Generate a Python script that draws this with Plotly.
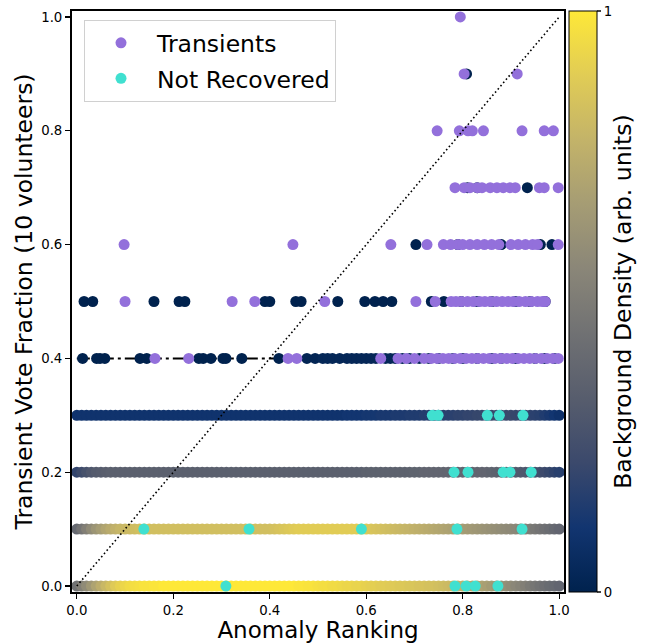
import plotly.graph_objects as go

# ---------------- data ----------------
# Background bands (continuous rows of background objects), x sampled along the row
BAND_X = [
    0.00, 0.01, 0.02, 0.03, 0.04, 0.05, 0.06, 0.07, 0.08, 0.09,
    0.10, 0.11, 0.12, 0.13, 0.14, 0.15, 0.16, 0.17, 0.18, 0.19,
    0.20, 0.21, 0.22, 0.23, 0.24, 0.25, 0.26, 0.27, 0.28, 0.29,
    0.30, 0.31, 0.32, 0.33, 0.34, 0.35, 0.36, 0.37, 0.38, 0.39,
    0.40, 0.41, 0.42, 0.43, 0.44, 0.45, 0.46, 0.47, 0.48, 0.49,
    0.50, 0.51, 0.52, 0.53, 0.54, 0.55, 0.56, 0.57, 0.58, 0.59,
    0.60, 0.61, 0.62, 0.63, 0.64, 0.65, 0.66, 0.67, 0.68, 0.69,
    0.70, 0.71, 0.72, 0.73, 0.74, 0.75, 0.76, 0.77, 0.78, 0.79,
    0.80, 0.81, 0.82, 0.83, 0.84, 0.85, 0.86, 0.87, 0.88, 0.89,
    0.90, 0.91, 0.92, 0.93, 0.94, 0.95, 0.96, 0.97, 0.98, 0.99,
    1.00,
]
BAND_VOTES = [0.0, 0.1, 0.2, 0.3]
DENSITY_V00 = [
    0.45, 0.52, 0.58, 0.64, 0.70, 0.75, 0.80, 0.84, 0.88, 0.91,
    0.93, 0.95, 0.96, 0.97, 0.98, 0.98, 0.99, 0.99, 1.00, 1.00,
    1.00, 1.00, 1.00, 1.00, 1.00, 1.00, 1.00, 1.00, 1.00, 1.00,
    1.00, 1.00, 1.00, 1.00, 1.00, 1.00, 1.00, 1.00, 1.00, 1.00,
    1.00, 1.00, 1.00, 1.00, 1.00, 1.00, 0.99, 0.99, 0.98, 0.98,
    0.97, 0.96, 0.96, 0.95, 0.95, 0.94, 0.93, 0.93, 0.92, 0.92,
    0.91, 0.90, 0.90, 0.89, 0.89, 0.88, 0.88, 0.87, 0.87, 0.86,
    0.86, 0.85, 0.85, 0.84, 0.84, 0.83, 0.82, 0.81, 0.80, 0.78,
    0.77, 0.75, 0.73, 0.72, 0.70, 0.68, 0.66, 0.64, 0.62, 0.60,
    0.58, 0.56, 0.54, 0.52, 0.49, 0.47, 0.45, 0.43, 0.41, 0.40,
    0.38,
]
DENSITY_V01 = [
    0.40, 0.46, 0.52, 0.58, 0.63, 0.67, 0.71, 0.74, 0.77, 0.79,
    0.80, 0.81, 0.82, 0.83, 0.83, 0.83, 0.83, 0.83, 0.83, 0.83,
    0.83, 0.83, 0.83, 0.83, 0.83, 0.83, 0.83, 0.83, 0.83, 0.83,
    0.83, 0.83, 0.83, 0.83, 0.83, 0.83, 0.83, 0.83, 0.83, 0.83,
    0.83, 0.84, 0.85, 0.86, 0.87, 0.88, 0.89, 0.89, 0.89, 0.89,
    0.89, 0.89, 0.89, 0.89, 0.89, 0.89, 0.89, 0.89, 0.89, 0.88,
    0.87, 0.86, 0.85, 0.84, 0.83, 0.82, 0.81, 0.80, 0.79, 0.78,
    0.77, 0.76, 0.75, 0.74, 0.73, 0.72, 0.71, 0.70, 0.69, 0.68,
    0.67, 0.66, 0.65, 0.64, 0.63, 0.62, 0.61, 0.60, 0.59, 0.58,
    0.57, 0.56, 0.54, 0.52, 0.50, 0.48, 0.46, 0.44, 0.42, 0.40,
    0.38,
]
DENSITY_V02 = [
    0.20, 0.24, 0.27, 0.30, 0.32, 0.33, 0.34, 0.35, 0.35, 0.35,
    0.35, 0.35, 0.35, 0.35, 0.35, 0.35, 0.35, 0.35, 0.35, 0.35,
    0.35, 0.35, 0.35, 0.35, 0.35, 0.35, 0.35, 0.35, 0.35, 0.35,
    0.35, 0.35, 0.35, 0.35, 0.35, 0.35, 0.35, 0.35, 0.35, 0.35,
    0.35, 0.35, 0.35, 0.35, 0.35, 0.35, 0.35, 0.35, 0.35, 0.35,
    0.35, 0.35, 0.35, 0.35, 0.35, 0.35, 0.35, 0.35, 0.35, 0.35,
    0.36, 0.36, 0.36, 0.36, 0.36, 0.36, 0.36, 0.36, 0.36, 0.36,
    0.37, 0.37, 0.38, 0.38, 0.38, 0.38, 0.38, 0.38, 0.38, 0.38,
    0.38, 0.38, 0.38, 0.38, 0.38, 0.38, 0.37, 0.36, 0.35, 0.34,
    0.33, 0.32, 0.31, 0.30, 0.29, 0.27, 0.25, 0.23, 0.21, 0.19,
    0.17,
]
DENSITY_V03 = [
    0.10, 0.10, 0.10, 0.10, 0.10, 0.10, 0.10, 0.10, 0.10, 0.10,
    0.10, 0.10, 0.10, 0.10, 0.10, 0.10, 0.10, 0.10, 0.10, 0.10,
    0.10, 0.10, 0.10, 0.10, 0.10, 0.10, 0.10, 0.10, 0.10, 0.10,
    0.10, 0.10, 0.10, 0.10, 0.10, 0.10, 0.10, 0.10, 0.10, 0.10,
    0.10, 0.10, 0.10, 0.10, 0.10, 0.10, 0.10, 0.10, 0.10, 0.10,
    0.10, 0.10, 0.10, 0.10, 0.10, 0.10, 0.11, 0.11, 0.11, 0.11,
    0.12, 0.12, 0.12, 0.13, 0.13, 0.13, 0.14, 0.14, 0.14, 0.15,
    0.15, 0.15, 0.16, 0.16, 0.16, 0.17, 0.17, 0.18, 0.18, 0.19,
    0.19, 0.20, 0.20, 0.21, 0.21, 0.22, 0.22, 0.22, 0.22, 0.22,
    0.22, 0.21, 0.21, 0.20, 0.19, 0.18, 0.17, 0.15, 0.13, 0.11,
    0.09,
]
BAND_DENSITIES = [DENSITY_V00, DENSITY_V01, DENSITY_V02, DENSITY_V03]

# Sparse background objects (low density) on higher vote rows
BG_X_V04 = [0.012, 0.041, 0.048, 0.058, 0.131, 0.145, 0.253, 0.262, 0.278, 0.303,
            0.309, 0.342, 0.419, 0.477, 0.494, 0.510, 0.520, 0.530, 0.545, 0.560,
            0.570, 0.580, 0.590, 0.600, 0.610, 0.620, 0.640, 0.650, 0.660, 0.675,
            0.690, 0.710, 0.730, 0.750, 0.780, 0.800, 0.830, 0.860, 0.880, 0.910,
            0.950, 0.970, 0.990]
BG_D_V04 = [0.00, 0.00, 0.00, 0.00, 0.00, 0.00, 0.00, 0.00, 0.00, 0.00,
            0.00, 0.00, 0.00, 0.02, 0.02, 0.03, 0.03, 0.03, 0.03, 0.03,
            0.03, 0.03, 0.03, 0.03, 0.03, 0.03, 0.03, 0.03, 0.03, 0.03,
            0.03, 0.03, 0.03, 0.03, 0.03, 0.03, 0.03, 0.03, 0.03, 0.03,
            0.03, 0.03, 0.03]
BG_X_V05 = [0.015, 0.033, 0.160, 0.212, 0.224, 0.390, 0.400, 0.454, 0.465, 0.541,
            0.597, 0.618, 0.635, 0.653, 0.735, 0.761, 0.797, 0.830, 0.860, 0.909,
            0.940, 0.971]
BG_X_V06 = [0.703, 0.790, 0.880, 0.961, 0.985]
BG_X_V07 = [0.810, 0.830, 0.934]
BG_X_V09 = [0.808]

# Transients
TR_X_V04 = [0.162, 0.232, 0.438, 0.456, 0.630, 0.666, 0.683, 0.700, 0.720, 0.735,
            0.747, 0.759, 0.771, 0.783, 0.795, 0.807, 0.819, 0.831, 0.843, 0.855,
            0.867, 0.879, 0.891, 0.903, 0.915, 0.927, 0.939, 0.951, 0.963, 0.975,
            0.987, 0.998]
TR_X_V05 = [0.100, 0.322, 0.369, 0.514, 0.703, 0.743, 0.776, 0.786, 0.797, 0.810,
            0.822, 0.835, 0.846, 0.858, 0.870, 0.882, 0.894, 0.905, 0.917, 0.930,
            0.942, 0.955, 0.965, 0.971]
TR_X_V06 = [0.098, 0.448, 0.651, 0.726, 0.760, 0.775, 0.790, 0.800, 0.815, 0.830,
            0.845, 0.860, 0.875, 0.900, 0.915, 0.930, 0.945, 0.955, 0.998]
TR_X_V07 = [0.784, 0.803, 0.815, 0.830, 0.840, 0.857, 0.871, 0.884, 0.898, 0.909,
            0.959, 0.969, 0.998]
TR_X_V08 = [0.747, 0.793, 0.811, 0.820, 0.843, 0.923, 0.969, 0.988]
TR_X_V09 = [0.803, 0.913]
TR_X_V10 = [0.795]

# Not recovered
NR_X_V00 = [0.309, 0.784, 0.807, 0.826, 0.873]
NR_X_V01 = [0.139, 0.357, 0.590, 0.788, 0.923]
NR_X_V02 = [0.782, 0.811, 0.884, 0.898, 0.942]
NR_X_V03 = [0.737, 0.749, 0.851, 0.876, 0.925]

X_TICKS = [0.0, 0.2, 0.4, 0.6, 0.8, 1.0]
Y_TICKS = [0.0, 0.2, 0.4, 0.6, 0.8, 1.0]
CB_TICKS = [0, 1]
CB_TICKTEXT = ["0", "1"]

# ---------------- figure ----------------
FONT = "DejaVu Sans"
PURPLE = "#9370DB"
TURQ = "#40E0D0"
MS = 11
TITLE_SIZE = 23.5
XTITLE_SIZE = 23
TICK_SIZE = 13.3

fig = go.Figure()

# dash-dot reference line at vote fraction 0.4
fig.add_trace(go.Scatter(x=[0.0, 1.0], y=[0.4, 0.4], mode="lines",
                         line=dict(color="black", width=2, dash="13px,4px,3px,4px"),
                         showlegend=False, hoverinfo="skip"))

for vote, dens in zip(BAND_VOTES, BAND_DENSITIES):
    fig.add_trace(go.Scatter(x=BAND_X, y=[vote] * len(BAND_X), mode="markers",
                             marker=dict(size=MS, color=dens, coloraxis="coloraxis"),
                             showlegend=False))

sparse = [(BG_X_V04, 0.4, BG_D_V04), (BG_X_V05, 0.5, None), (BG_X_V06, 0.6, None),
          (BG_X_V07, 0.7, None), (BG_X_V09, 0.9, None)]
for xs, vote, dens in sparse:
    col = dens if dens is not None else [0.0] * len(xs)
    fig.add_trace(go.Scatter(x=xs, y=[vote] * len(xs), mode="markers",
                             marker=dict(size=MS, color=col, coloraxis="coloraxis"),
                             showlegend=False))

tr_rows = [(TR_X_V04, 0.4), (TR_X_V05, 0.5), (TR_X_V06, 0.6), (TR_X_V07, 0.7),
           (TR_X_V08, 0.8), (TR_X_V09, 0.9), (TR_X_V10, 1.0)]
tr_x, tr_y = [], []
for xs, v in tr_rows:
    tr_x += xs
    tr_y += [v] * len(xs)
fig.add_trace(go.Scatter(x=tr_x, y=tr_y, mode="markers", name="Transients",
                         legendgroup="a",
                         marker=dict(size=MS, color=PURPLE)))

nr_rows = [(NR_X_V00, 0.0), (NR_X_V01, 0.1), (NR_X_V02, 0.2), (NR_X_V03, 0.3)]
nr_x, nr_y = [], []
for xs, v in nr_rows:
    nr_x += xs
    nr_y += [v] * len(xs)
fig.add_trace(go.Scatter(x=nr_x, y=nr_y, mode="markers", name="Not Recovered",
                         legendgroup="b",
                         marker=dict(size=MS, color=TURQ)))

# diagonal
fig.add_trace(go.Scatter(x=[0, 1], y=[0, 1], mode="lines",
                         line=dict(color="black", width=1.6, dash="1.6px,2.6px"),
                         showlegend=False, hoverinfo="skip"))

fig.update_layout(
    width=660, height=643,
    margin=dict(l=72, r=96, t=11, b=51, autoexpand=False),
    paper_bgcolor="white", plot_bgcolor="white",
    font=dict(family=FONT, color="black", size=TICK_SIZE),
    coloraxis=dict(
        colorscale="Cividis", cmin=0, cmax=1,
        colorbar=dict(
            x=1.0102, xanchor="left", xpad=0, ypad=0,
            y=0.5, yanchor="middle", len=1.0, lenmode="fraction",
            thickness=28, thicknessmode="pixels",
            outlinewidth=1, outlinecolor="black",
            tickvals=CB_TICKS, ticktext=CB_TICKTEXT,
            ticks="outside", ticklen=4, tickwidth=1.2,
            ticklabeloverflow="allow",
            tickfont=dict(family=FONT, size=TICK_SIZE),
            title=dict(text="Background Density (arb. units)", side="right",
                       font=dict(family=FONT, size=TITLE_SIZE)),
        ),
    ),
    legend=dict(
        x=0.0244, y=0.9845, xanchor="left", yanchor="top",
        bgcolor="rgba(255,255,255,0.8)", bordercolor="#d0d0d0", borderwidth=1,
        font=dict(family=FONT, size=TITLE_SIZE), itemwidth=62, tracegroupgap=2,
    ),
    showlegend=True,
)
fig.update_xaxes(
    range=[-0.01, 1.01], tickvals=X_TICKS, tickformat=".1f",
    ticks="outside", ticklen=5, tickwidth=1.3, tickcolor="black",
    showline=True, linecolor="black", linewidth=2, mirror=True,
    showgrid=False, zeroline=False, automargin=False,
    title=dict(text="Anomaly Ranking", font=dict(family=FONT, size=XTITLE_SIZE), standoff=6),
    tickfont=dict(family=FONT, size=TICK_SIZE),
)
fig.update_yaxes(
    range=[-0.0105, 1.0105], tickvals=Y_TICKS, tickformat=".1f",
    ticks="outside", ticklen=5, tickwidth=1.3, tickcolor="black",
    showline=True, linecolor="black", linewidth=2, mirror=True,
    showgrid=False, zeroline=False, automargin=False,
    title=dict(text="Transient Vote Fraction (10 volunteers)",
               font=dict(family=FONT, size=TITLE_SIZE), standoff=2),
    tickfont=dict(family=FONT, size=TICK_SIZE),
)

# remove the browser's default 8px body margin so the figure fills the window exactly
fig.write_html("out.html",
               config={"displayModeBar": False, "staticPlot": True},
               post_script="document.body.style.margin='0';document.body.style.overflow='hidden';")
